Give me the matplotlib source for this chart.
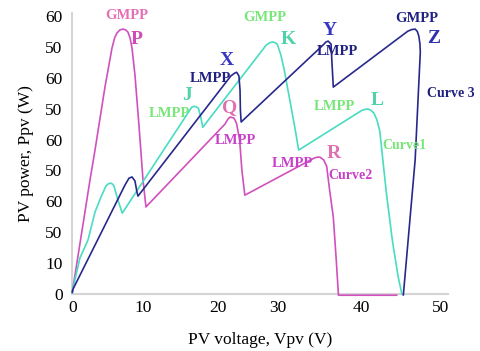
import matplotlib
matplotlib.use("Agg")
import matplotlib.pyplot as plt

# ---- data (y in axis units whose ticks carry the printed labels) ----
curve2_v = [0, 2.40, 3.08, 4.43, 5.38, 5.75, 6.06, 6.45, 6.88, 7.25, 7.55, 7.85, 8.10, 8.50,
            9.04, 9.59, 9.99,
            20.7, 21.1, 21.4, 21.9, 22.1, 22.3, 22.7, 23.0, 23.4,
            32.8, 33.2, 33.6, 34.1, 34.5, 34.9, 35.4, 35.8, 36.1, 44.0]
curve2_p = [0.6, 36.9, 46.6, 67.0, 79.6, 83.0, 84.5, 85.5, 85.8, 85.5, 84.8, 82.8, 79.6, 70.9,
            54.7, 36.9, 28.2,
            55.0, 56.6, 57.3, 57.0, 56.2, 55.0, 49.8, 40.1, 32.0,
            44.0, 44.3, 44.3, 43.4, 41.4, 33.7, 24.9, 11.0, -0.4, -0.4]

curve1_v = [0, 0.1, 1.04, 2.13, 3.08, 3.89, 4.57, 4.9, 5.21, 5.45, 5.65, 6.19, 6.78,
            16.2, 16.6, 17.1, 17.4, 17.7,
            26.3, 26.8, 27.2, 27.5, 27.8, 28.3, 28.7, 29.5, 30.2, 30.7,
            39.3, 39.7, 40.1, 40.5, 40.9, 41.3, 41.7, 42.6, 43.4, 44.2, 44.7]
curve1_p = [0.3, 1.9, 11.7, 17.5, 26.5, 31.4, 35.0, 35.7, 35.9, 35.6, 35.0, 30.4, 26.2,
            60.5, 60.8, 60.2, 57.5, 54.0,
            80.6, 81.4, 81.6, 81.4, 80.9, 77.3, 73.1, 62.8, 53.7, 46.6,
            59.5, 59.8, 59.9, 59.5, 58.6, 56.5, 52.8, 32.7, 17.5, 5.5, 0.0]

curve3_v = [0, 0.1, 3.89, 7.15, 7.69, 8.10, 8.50, 8.77, 8.91,
            21.5, 22.0, 22.3, 22.6, 22.75, 22.8, 22.9,
            34.0, 34.4, 34.7, 35.1, 35.2, 35.4,
            45.5, 46.0, 46.5, 46.8, 47.0, 47.15, 47.2, 46.5, 44.9]
curve3_p = [0.6, 1.6, 19.7, 35.3, 37.5, 37.9, 36.6, 33.0, 31.7,
            70.6, 71.5, 71.8, 70.6, 66.0, 59.5, 55.7,
            80.6, 81.6, 81.9, 80.9, 75.7, 67.0,
            85.1, 85.6, 85.8, 85.0, 83.5, 81.0, 78.3, 43.4, -0.3]

xtick_pos = [0, 9.55, 19.7, 27.9, 39.2, 50]
xtick_labels = ["0", "10", "20", "30", "40", "50"]
ytick_pos = [0, 10, 20, 30, 40, 50, 60, 70, 80, 90]
ytick_labels = ["0", "10", "50", "60", "50", "60", "50", "60", "50", "60"]

# annotations: (text, x, y, colour, size)
annotations = [
    ("GMPP", 7.4, 90.3, "#e66eb4", 10.5),
    ("P", 8.7, 82.5, "#d04cb4", 14),
    ("LMPP", 18.7, 69.8, "#202080", 10.5),
    ("X", 20.9, 75.7, "#3636c4", 14),
    ("J", 15.5, 64.3, "#50d2aa", 14),
    ("LMPP", 13.2, 58.6, "#78e678", 10.5),
    ("Q", 21.4, 60.5, "#e070b0", 14),
    ("LMPP", 22.1, 49.8, "#c840c8", 10.5),
    ("GMPP", 26.1, 89.6, "#78e678", 10.5),
    ("K", 29.3, 82.4, "#50d2aa", 14),
    ("Y", 34.9, 85.4, "#3636c4", 14),
    ("LMPP", 35.9, 78.4, "#202080", 10.5),
    ("GMPP", 46.7, 89.2, "#202080", 10.5),
    ("Z", 49.0, 82.7, "#3030b0", 14),
    ("Curve 3", 51.4, 65.0, "#202080", 10),
    ("LMPP", 35.6, 60.8, "#78e678", 10.5),
    ("L", 41.3, 62.8, "#50d2aa", 14),
    ("Curve1", 45.1, 48.2, "#78e678", 10),
    ("R", 35.4, 45.5, "#e070b0", 14),
    ("LMPP", 29.9, 42.1, "#c840c8", 10.5),
    ("Curve2", 37.7, 38.5, "#c840c8", 10),
]

plt.rcParams["font.family"] = ["Liberation Serif", "DejaVu Serif"]

fig = plt.figure(figsize=(4.81, 3.51), dpi=100)
ax = fig.add_axes([0.1503, 0.1624, 0.781, 0.8006])

ax.plot(curve2_v, curve2_p, color="#d050be", lw=1.2, clip_on=False, zorder=3)
ax.plot(curve1_v, curve1_p, color="#48dcc0", lw=1.2, clip_on=False, zorder=3)
ax.plot(curve3_v, curve3_p, color="#28288c", lw=1.2, clip_on=False, zorder=3)

for txt, x, y, c, s in annotations:
    ax.text(x, y, txt, color=c, fontsize=s, fontweight="bold",
            ha="center", va="center", zorder=4)

ax.set_xlim(0, 50.95)
ax.set_ylim(0, 91)
ax.set_xticks(xtick_pos)
ax.set_xticklabels(xtick_labels)
ax.set_yticks(ytick_pos)
ax.set_yticklabels(ytick_labels)
ax.tick_params(axis="both", length=0, labelsize=12.5, colors="black")
ax.tick_params(axis="x", pad=4)
ax.tick_params(axis="y", pad=7)

for side in ("top", "right"):
    ax.spines[side].set_visible(False)
for side in ("left", "bottom"):
    ax.spines[side].set_color("#d4d4d4")
    ax.spines[side].set_linewidth(1.5)

ax.set_xlabel("PV voltage, Vpv (V)", fontsize=12.5, labelpad=12)
ax.set_ylabel("PV power, Ppv (W)", fontsize=12.5, labelpad=8)

fig.savefig("out.png", dpi=100)
